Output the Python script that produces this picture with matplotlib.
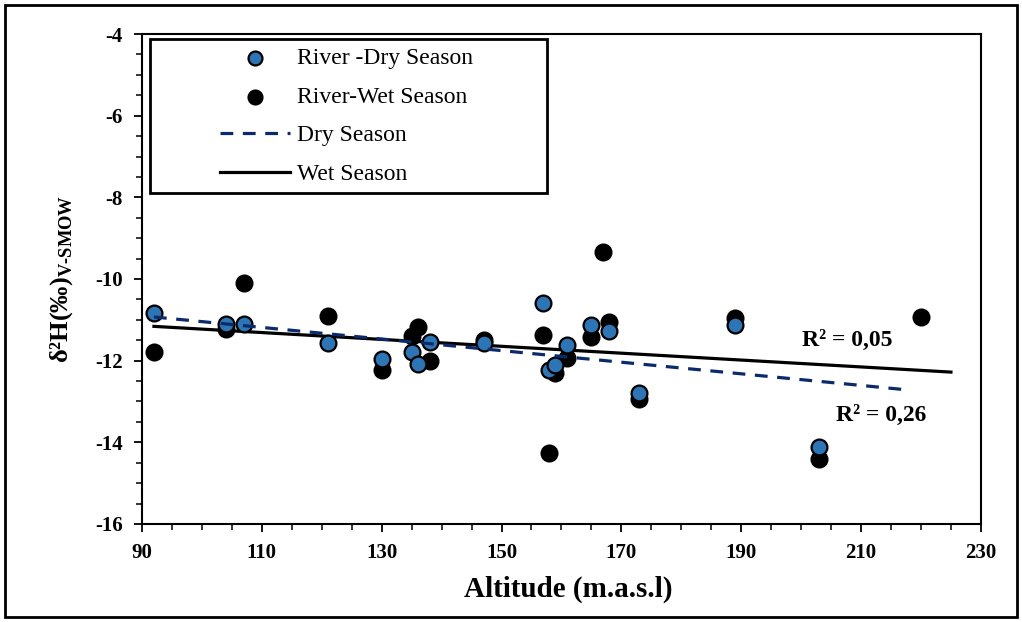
import matplotlib.pyplot as plt
from matplotlib.patches import Rectangle
from matplotlib.ticker import MultipleLocator
from matplotlib.lines import Line2D
from matplotlib.collections import PathCollection
from matplotlib.legend_handler import HandlerLine2D, HandlerPathCollection

plt.rcParams['font.family'] = ['Liberation Serif', 'DejaVu Serif']
plt.rcParams['axes.unicode_minus'] = False
plt.rcParams['mathtext.fontset'] = 'custom'
plt.rcParams['mathtext.rm'] = 'Liberation Serif:bold'

# river samples, dry season
dry_alt = [92, 104, 107, 121, 130, 135, 136, 138, 147, 157, 158, 159, 161, 165, 168, 173, 189, 203]
dry_d2h = [-10.84, -11.11, -11.11, -11.56, -11.96, -11.79, -12.07, -11.54, -11.57, -10.59, -12.23, -12.10,
           -11.61, -11.12, -11.28, -12.79, -11.12, -14.12]

# river samples, wet season
wet_alt = [92, 104, 107, 121, 130, 135, 136, 138, 147, 157, 158, 159, 161, 165, 167, 168, 173, 189, 203, 220]
wet_d2h = [-11.80, -11.23, -10.10, -10.90, -12.24, -11.39, -11.17, -12.02, -11.49, -11.37, -14.25, -12.30,
           -11.93, -11.41, -9.34, -11.05, -12.93, -10.95, -14.41, -10.93]

# trend lines as drawn
dry_trend_x = [92, 218]
dry_trend_y = [-10.93, -12.72]
wet_trend_x = [92, 225]
wet_trend_y = [-11.16, -12.28]

x_ticks = [90, 110, 130, 150, 170, 190, 210, 230]

blue = '#2E75B6'
navy = '#0B2A6B'

fig = plt.figure(figsize=(10.22, 6.22), dpi=100)
ax = fig.add_axes([0.1389, 0.1576, 0.8209, 0.7877])

fig.patches.append(Rectangle((0.005, 0.008), 0.99, 0.984, transform=fig.transFigure,
                             fill=False, edgecolor='black', linewidth=2))

ax.scatter(dry_alt, dry_d2h, s=130, color=blue, edgecolor='black', linewidth=1.6,
           zorder=3, label='River -Dry Season')
ax.scatter(wet_alt, wet_d2h, s=130, color='black', edgecolor='black', linewidth=1.6,
           zorder=2, label='River-Wet Season')
ax.plot(dry_trend_x, dry_trend_y, color=navy, linestyle=(0, (4, 3)), linewidth=2.3,
        zorder=4, label='Dry Season')
ax.plot(wet_trend_x, wet_trend_y, color='black', linewidth=2.3, zorder=1, label='Wet Season')

ax.text(200.2, -11.5, 'R² = 0,05', fontsize=17, fontweight='bold', va='center')
ax.text(205.9, -13.33, 'R² = 0,26', fontsize=17, fontweight='bold', va='center')

ax.set_xlim(90, 230)
ax.set_ylim(-16, -4)
ax.set_xticks(x_ticks)
ax.xaxis.set_minor_locator(MultipleLocator(5))
ax.yaxis.set_major_locator(MultipleLocator(2))
ax.yaxis.set_minor_locator(MultipleLocator(0.5))
ax.tick_params(which='major', direction='out', length=6, width=1.3, labelsize=15, pad=8)
ax.tick_params(which='minor', direction='out', length=4, width=1.1)
for lbl in ax.get_xticklabels() + ax.get_yticklabels():
    lbl.set_fontweight('bold')
for sp in ax.spines.values():
    sp.set_linewidth(1.5)

ax.set_xlabel('Altitude (m.a.s.l)', fontsize=21, fontweight='bold')
ax.xaxis.set_label_coords(0.508, -0.105)
ax.set_ylabel(r'δ²H(‰)$_{\mathrm{V\text{-}SMOW}}$', fontsize=19, fontweight='bold', labelpad=14)

fs = 17
hmap = {Line2D: HandlerLine2D(xpad=2.6), PathCollection: HandlerPathCollection(xpad=2.6)}
leg = ax.legend(loc='upper left', bbox_to_anchor=(0.0095, 0.5, 0.473, 0.489), mode='expand',
                fontsize=fs, frameon=True, fancybox=False, edgecolor='black', borderpad=0.35,
                labelspacing=0.72, handlelength=5.6, handletextpad=0.3, borderaxespad=0,
                scatterpoints=1, handler_map=hmap)
leg.get_frame().set_linewidth(2)
leg.get_frame().set_alpha(1)
for h in leg.legend_handles:
    if isinstance(h, PathCollection):
        h.set_sizes([100])

fig.savefig('out.png', dpi=100)
